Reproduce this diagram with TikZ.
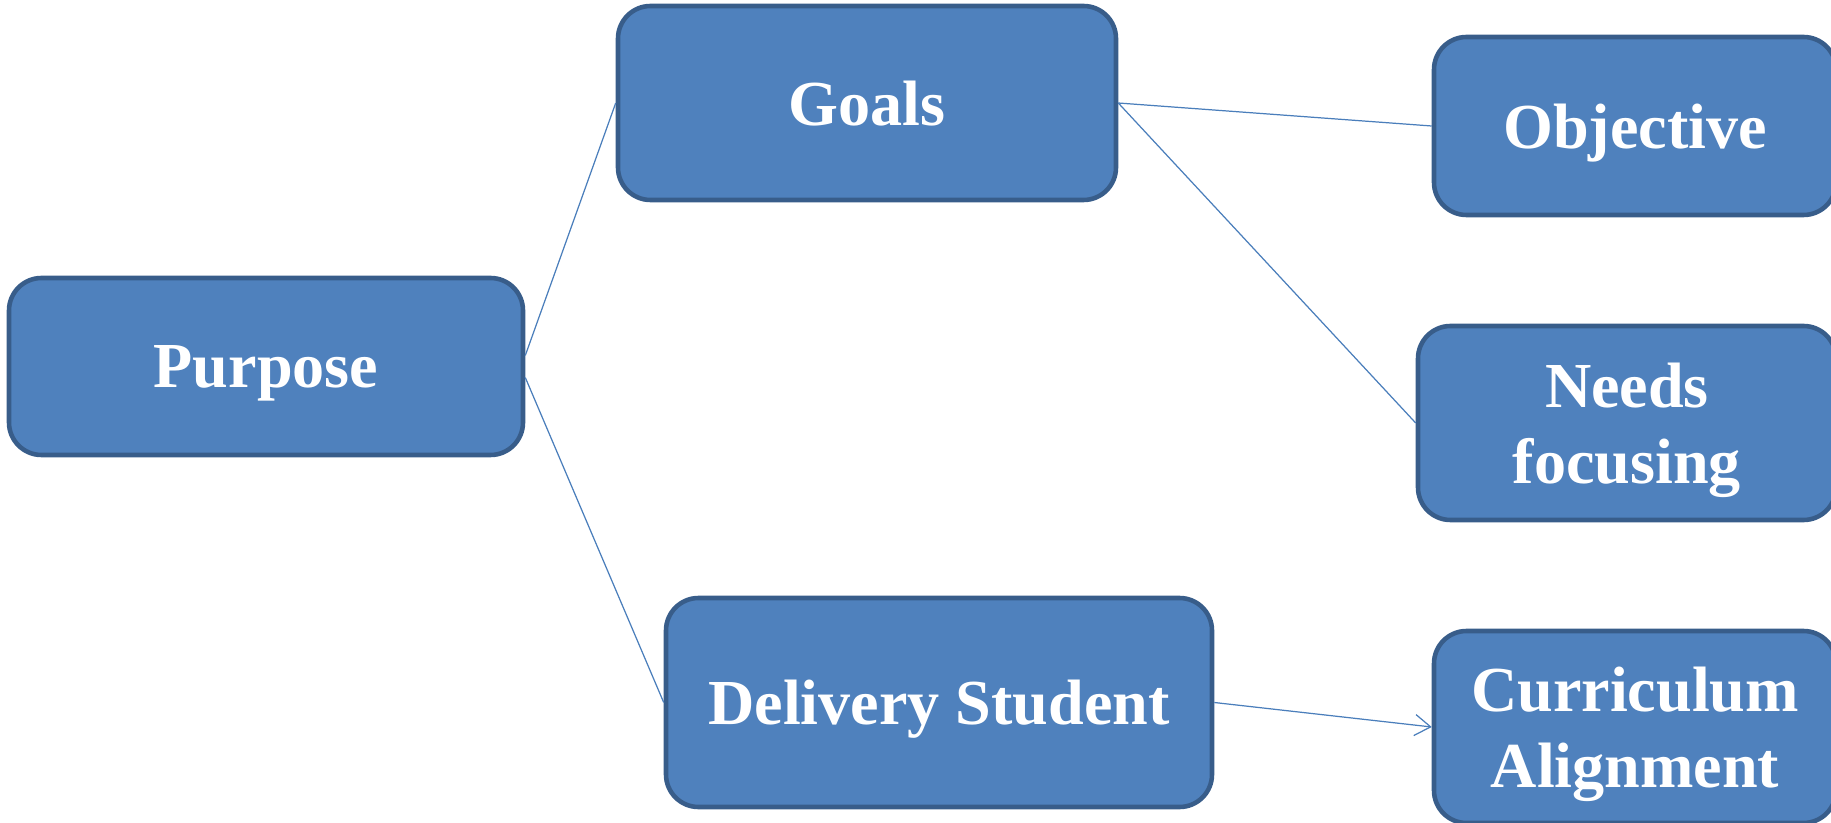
\documentclass[tikz,border=0pt]{standalone}
\usepackage{fontspec}
\setmainfont{Liberation Serif}
\usetikzlibrary{arrows.meta}
\definecolor{boxfill}{HTML}{4F81BD}
\definecolor{boxline}{HTML}{385D8A}
\definecolor{linkcol}{HTML}{4A7EBB}
\begin{document}
\begin{tikzpicture}[
  box/.style={draw=boxline, line width=2.6pt, fill=boxfill, rounded corners=0.65cm,
    text=white, align=center, inner sep=0pt, text depth=0pt,
    font=\bfseries\fontsize{36.5}{43}\selectfont},
  link/.style={draw=linkcol, line width=0.7pt}
]
\useasboundingbox (0,0) rectangle (36.62,-16.46);

\node[box, minimum width=10.28cm, minimum height=3.54cm] (purpose) at (5.32,-7.33) {Purpose};
\node[box, minimum width=9.96cm, minimum height=3.88cm] (goals) at (17.34,-2.06) {Goals};
\node[box, minimum width=8.04cm, minimum height=3.56cm] (objective) at (32.70,-2.52) {Objective};
\node[box, minimum width=8.36cm, minimum height=3.88cm] (needs) at (32.54,-8.46) {Needs\\focusing};
\node[box, minimum width=10.92cm, minimum height=4.18cm] (delivery) at (18.78,-14.05) {Delivery Student};
\node[box, minimum width=8.04cm, minimum height=3.84cm] (curriculum) at (32.70,-14.54) {Curriculum\\Alignment};

\draw[link] ([yshift=0.22cm]purpose.east) -- (goals.west);
\draw[link] ([yshift=-0.22cm]purpose.east) -- (delivery.west);
\draw[link] (goals.east) -- (objective.west);
\draw[link] (goals.east) -- (needs.west);
\draw[link, -{Straight Barb[length=9pt,width=12pt]}] (delivery.east) -- (curriculum.west);
\end{tikzpicture}
\end{document}
